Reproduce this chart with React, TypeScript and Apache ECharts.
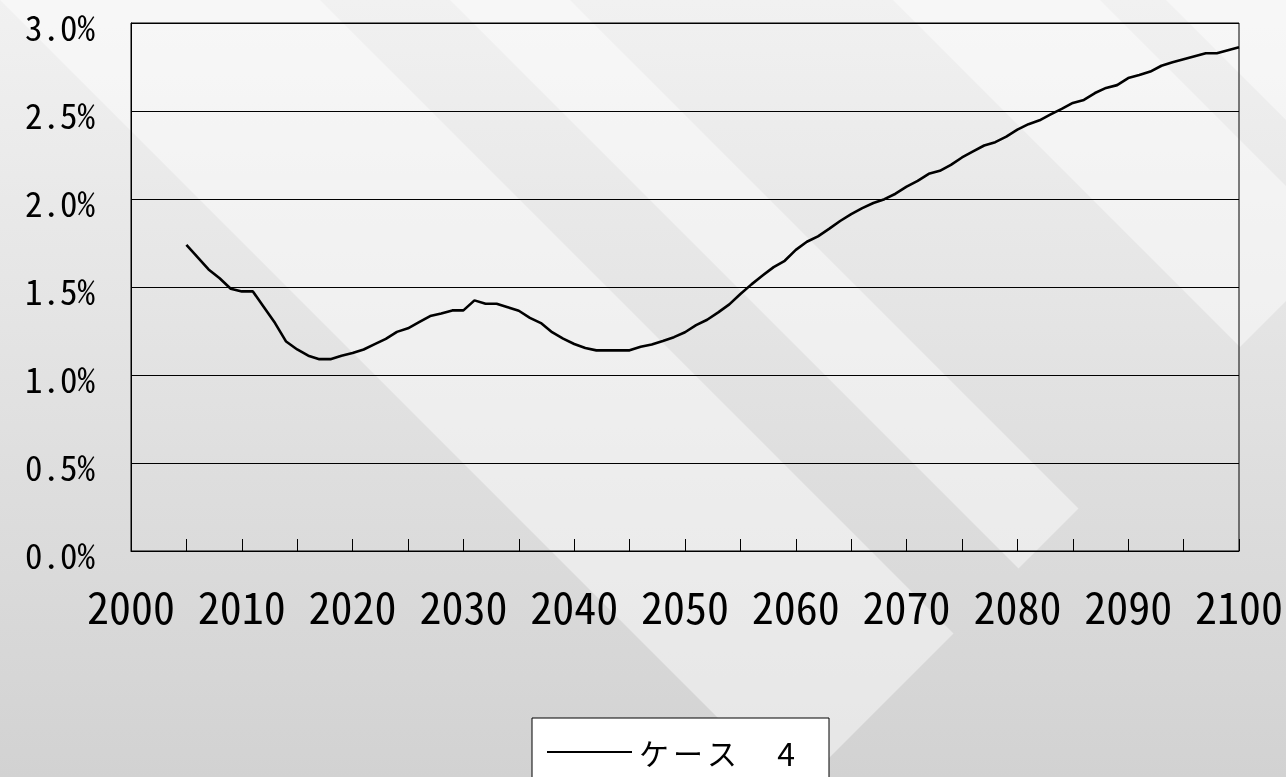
import React, { useEffect, useRef } from "react";
import * as echarts from "echarts";

// Years on the category axis (2000–2100), values start in 2005
const firstYear = 2000;
const lastYear = 2100;
const dataStartYear = 2005;
const seriesName = "ケース 4";

// Rate (%) per year, 2005–2100
const rate = [
  1.74, 1.67, 1.6, 1.55, 1.49, 1.475, 1.475, 1.385, 1.295, 1.19,
  1.145, 1.11, 1.09, 1.09, 1.11, 1.125, 1.145, 1.175, 1.205, 1.245,
  1.265, 1.3, 1.335, 1.35, 1.367, 1.367, 1.424, 1.405, 1.405, 1.385,
  1.365, 1.325, 1.295, 1.243, 1.207, 1.176, 1.153, 1.14, 1.14, 1.14,
  1.14, 1.16, 1.173, 1.193, 1.215, 1.243, 1.283, 1.314, 1.356, 1.401,
  1.46, 1.515, 1.565, 1.613, 1.649, 1.711, 1.757, 1.788, 1.83, 1.875,
  1.914, 1.948, 1.977, 1.999, 2.03, 2.07, 2.103, 2.143, 2.16, 2.194,
  2.236, 2.27, 2.304, 2.323, 2.354, 2.394, 2.425, 2.447, 2.481, 2.512,
  2.546, 2.563, 2.602, 2.631, 2.647, 2.687, 2.704, 2.724, 2.757, 2.777,
  2.794, 2.811, 2.828, 2.828, 2.845, 2.862,
];

// Y axis range (%)
const yMin = 0;
const yMax = 3;
const yStep = 0.5;

const W = 1286;
const H = 777;
const MONO = "'Noto Sans Mono CJK JP', 'Noto Sans CJK JP', 'DejaVu Sans Condensed', sans-serif";
const CJK = "'Noto Sans CJK JP', 'Noto Sans', sans-serif";

// Diagonal light bands of the backdrop: each band lies between y - x = c1 and y - x = c2,
// cut off along x + y = cut.
const bandCut = 1587;
const bands: [number, number][] = [
  [-320, 0],
  [-570, -450],
  [-1100, -893],
  [-2200, -1166],
];

function bandPolygon(c1: number, c2: number): number[][] {
  const top = -400;
  return [
    [top - c1, top],
    [(bandCut - c1) / 2, (bandCut + c1) / 2],
    [(bandCut - c2) / 2, (bandCut + c2) / 2],
    [top - c2, top],
  ];
}

export default function App() {
  const ref = useRef<HTMLDivElement>(null);

  useEffect(() => {
    if (!ref.current) return;
    const chart = echarts.init(ref.current, null, { renderer: "svg" });

    const years: string[] = [];
    for (let y = firstYear; y <= lastYear; y++) years.push(String(y));
    const values: (number | null)[] = years.map((y) => {
      const idx = Number(y) - dataStartYear;
      return idx >= 0 && idx < rate.length ? rate[idx] : null;
    });

    const background = [
      {
        type: "rect",
        z: -2,
        silent: true,
        shape: { x: 0, y: 0, width: W, height: H },
        style: {
          fill: new echarts.graphic.LinearGradient(0, 0, 0, 1, [
            { offset: 0, color: "#f1f1f1" },
            { offset: 1, color: "#d2d2d2" },
          ]),
        },
      },
      ...bands.map(([c1, c2]) => ({
        type: "polygon",
        z: -1,
        silent: true,
        shape: { points: bandPolygon(c1, c2) },
        style: { fill: "rgba(255,255,255,0.45)" },
      })),
    ];

    chart.setOption({
      animation: false,
      graphic: { elements: background },
      grid: {
        show: true,
        left: 131,
        top: 23,
        width: 1109,
        height: 528,
        borderColor: "#000",
        borderWidth: 1,
        backgroundColor: "transparent",
      },
      xAxis: {
        type: "category",
        data: years,
        boundaryGap: false,
        axisLine: { show: true, lineStyle: { color: "#000", width: 1 } },
        axisTick: {
          show: true,
          inside: true,
          length: 12,
          interval: 4,
          lineStyle: { color: "#000", width: 1 },
        },
        axisLabel: {
          interval: 9,
          margin: 32,
          color: "#000",
          fontSize: 44,
          fontFamily: MONO,
        },
        splitLine: { show: false },
      },
      yAxis: {
        type: "value",
        min: yMin,
        max: yMax,
        interval: yStep,
        axisLine: { show: true, lineStyle: { color: "#000", width: 1 } },
        axisTick: {
          show: true,
          inside: true,
          length: 11,
          lineStyle: { color: "#000", width: 1 },
        },
        axisLabel: {
          margin: 36,
          color: "#000",
          fontSize: 35,
          fontFamily: MONO,
          formatter: (v: number) => `{v|${v.toFixed(1)}%}`,
          rich: {
            v: {
              fontSize: 35,
              fontFamily: MONO,
              color: "#000",
              lineHeight: 30,
              padding: [5, 0, 0, 0],
            },
          },
        },
        splitLine: { show: true, lineStyle: { color: "#000", width: 1 } },
      },
      legend: {
        show: true,
        left: 532,
        top: 718,
        orient: "horizontal",
        padding: [18, 34, 20, 15],
        backgroundColor: "#fff",
        borderColor: "#000",
        borderWidth: 1,
        borderRadius: 0,
        itemWidth: 85,
        itemHeight: 2,
        icon: "rect",
        data: [seriesName],
        formatter: (name: string) => {
          const main = name.split(" ")[0];
          const rest = name.slice(main.length);
          return main.split("").map((ch) => `{c|${ch}}`).join("") + `{d|${rest}}`;
        },
        textStyle: {
          color: "#000",
          fontFamily: CJK,
          fontSize: 30,
          rich: {
            c: { width: 34, align: "center", fontSize: 30, lineHeight: 32, fontFamily: CJK, color: "#000" },
            d: { width: 56, align: "right", fontSize: 32, lineHeight: 32, fontFamily: CJK, color: "#000" },
          },
        },
      },
      series: [
        {
          name: seriesName,
          type: "line",
          data: values,
          symbol: "none",
          showSymbol: false,
          connectNulls: false,
          lineStyle: { color: "#000", width: 2.6 },
          itemStyle: { color: "#000" },
          z: 3,
        },
      ],
    });

    return () => chart.dispose();
  }, []);

  return (
    <div
      ref={ref}
      style={{ position: "fixed", left: 0, top: 0, width: W, height: H }}
    />
  );
}
